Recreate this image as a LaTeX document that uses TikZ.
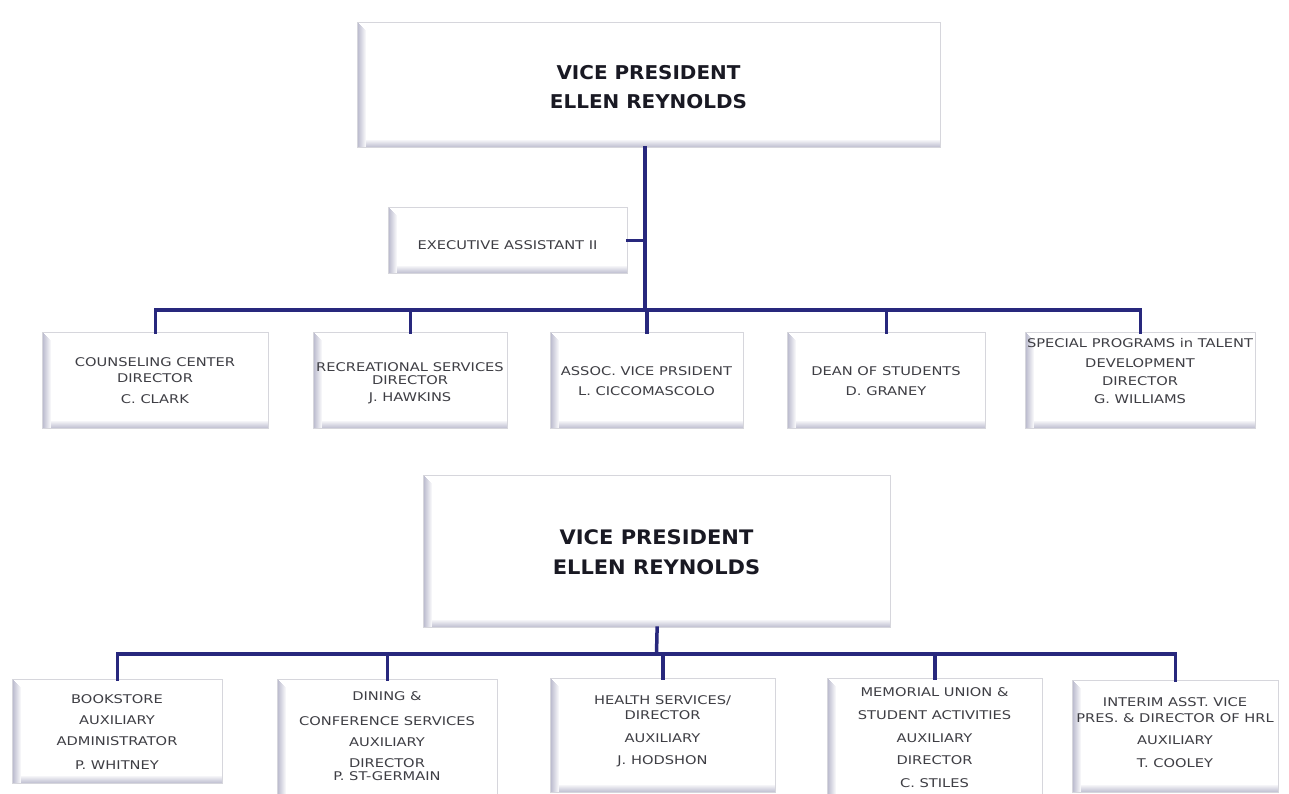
\documentclass[tikz,border=0pt]{standalone}
\usepackage{fontspec}
\newfontfamily\boxfont[FakeStretch=1.22]{DejaVu Sans}
\newfontfamily\headfont[FakeStretch=1.05]{DejaVu Sans}
\definecolor{navyline}{RGB}{40,40,125}
\definecolor{bevel}{RGB}{190,190,208}
\definecolor{rim}{RGB}{214,214,220}
\definecolor{ink}{RGB}{62,62,68}
\definecolor{headink}{RGB}{25,25,35}

\tikzset{
  unit/.style={draw=rim, line width=1.2pt, fill=white, inner sep=0pt, anchor=north west,
    path picture={
      % soft bevel along the left and bottom inner edges
      \foreach \i in {0,...,7}{
        \pgfmathtruncatemacro\tone{100-12*\i}
        \draw[bevel!\tone!white, line width=1.05pt]
          ([xshift=\i pt+0.5pt]path picture bounding box.south west) --
          ([xshift=\i pt+0.5pt, yshift=-\i pt]path picture bounding box.north west);
        \draw[bevel!\tone!white, line width=1.05pt]
          ([xshift=\i pt, yshift=\i pt+0.5pt]path picture bounding box.south west) --
          ([yshift=\i pt+0.5pt]path picture bounding box.south east);
      }
    }},
  lbl/.style={anchor=north, align=center, inner sep=0pt, text=ink,
    font=\boxfont\fontsize{12}{12}\selectfont},
  head/.style={anchor=north, align=center, inner sep=0pt, text=headink,
    font=\headfont\bfseries\fontsize{19}{29}\selectfont},
  link/.style={draw=navyline, line width=3.5pt, line cap=rect}
}

\begin{document}
\begin{tikzpicture}[x=1pt,y=-1pt]
\useasboundingbox (0,0) rectangle (1289,794);

% ---------- first chart ----------
\node[unit, minimum width=583pt, minimum height=125pt] (vp1) at (357,22) {};
\node[head] (vp1t) at (648.5,65) {VICE PRESIDENT\\ELLEN REYNOLDS};

\node[unit, minimum width=239pt, minimum height=66pt] (ea) at (388,207) {};
\node[lbl] (eat) at (507.5,240.6) {EXECUTIVE ASSISTANT II};

\node[unit, minimum width=226pt, minimum height=96pt] (c1) at (42,332) {};
\node[unit, minimum width=194pt, minimum height=96pt] (c2) at (313,332) {};
\node[unit, minimum width=193pt, minimum height=96pt] (c3) at (550,332) {};
\node[unit, minimum width=198pt, minimum height=96pt] (c4) at (787,332) {};
\node[unit, minimum width=230pt, minimum height=96pt] (c5) at (1025,332) {};

\node[lbl] (c1t) at (155,357.6) {COUNSELING CENTER\\[4pt]DIRECTOR\\[9pt]C. CLARK};
\node[lbl] (c2t) at (410,362.6) {RECREATIONAL SERVICES\\[1pt]DIRECTOR\\[5pt]J. HAWKINS};
\node[lbl] (c3t) at (646.5,366.6) {ASSOC. VICE PRSIDENT\\[8pt]L. CICCOMASCOLO};
\node[lbl] (c4t) at (886,366.6) {DEAN OF STUDENTS\\[8pt]D. GRANEY};
\node[lbl] (c5t) at (1140,338.6) {SPECIAL PROGRAMS in TALENT\\[8pt]DEVELOPMENT\\[6pt]DIRECTOR\\[6pt]G. WILLIAMS};

\coordinate (bar1) at (645,310);
\draw[link] (bar1 |- vp1.south) -- (bar1);
\draw[link] (ea.east) -- (ea.east -| bar1);
\draw[link] (c1.north |- bar1) -- (c5.north |- bar1);
\foreach \n in {c1,c2,c3,c4,c5}
  \draw[link] (\n.north |- bar1) -- (\n.north);

% ---------- second chart ----------
\node[unit, minimum width=467pt, minimum height=152pt] (vp2) at (423,475) {};
\node[head, font=\headfont\bfseries\fontsize{20}{30}\selectfont] (vp2t) at (656.5,529.7) {VICE PRESIDENT\\ELLEN REYNOLDS};

\node[unit, minimum width=210pt, minimum height=104pt] (d1) at (12,679) {};
\node[unit, minimum width=220pt, minimum height=125pt] (d2) at (277,679) {};
\node[unit, minimum width=225pt, minimum height=114pt] (d3) at (550,678) {};
\node[unit, minimum width=215pt, minimum height=125pt] (d4) at (827,678) {};
\node[unit, minimum width=206pt, minimum height=112pt] (d5) at (1072,680) {};

\node[lbl] (d1t) at (117,694.6) {BOOKSTORE\\[9pt]AUXILIARY\\[9pt]ADMINISTRATOR\\[12pt]P. WHITNEY};
\node[lbl] (d2t) at (387,691.6) {DINING \&\\[13pt]CONFERENCE SERVICES\\[9pt]AUXILIARY\\[9pt]DIRECTOR\\[1pt]P. ST-GERMAIN};
\node[lbl] (d3t) at (662.5,695.6) {HEALTH SERVICES/\\[3pt]DIRECTOR\\[11pt]AUXILIARY\\[10pt]J. HODSHON};
\node[lbl] (d4t) at (934.5,687.6) {MEMORIAL UNION \&\\[11pt]STUDENT ACTIVITIES\\[11pt]AUXILIARY\\[10pt]DIRECTOR\\[11pt]C. STILES};
\node[lbl] (d5t) at (1175,697.6) {INTERIM ASST. VICE\\[4pt]PRES. \& DIRECTOR OF HRL\\[10pt]AUXILIARY\\[11pt]T. COOLEY};

\coordinate (bar2) at (656.5,654);
\draw[link] (vp2.south) -- (bar2);
\draw[link] (d1.north |- bar2) -- (d5.north |- bar2);
\foreach \n in {d1,d2,d3,d4,d5}
  \draw[link] (\n.north |- bar2) -- (\n.north);
\end{tikzpicture}
\end{document}
